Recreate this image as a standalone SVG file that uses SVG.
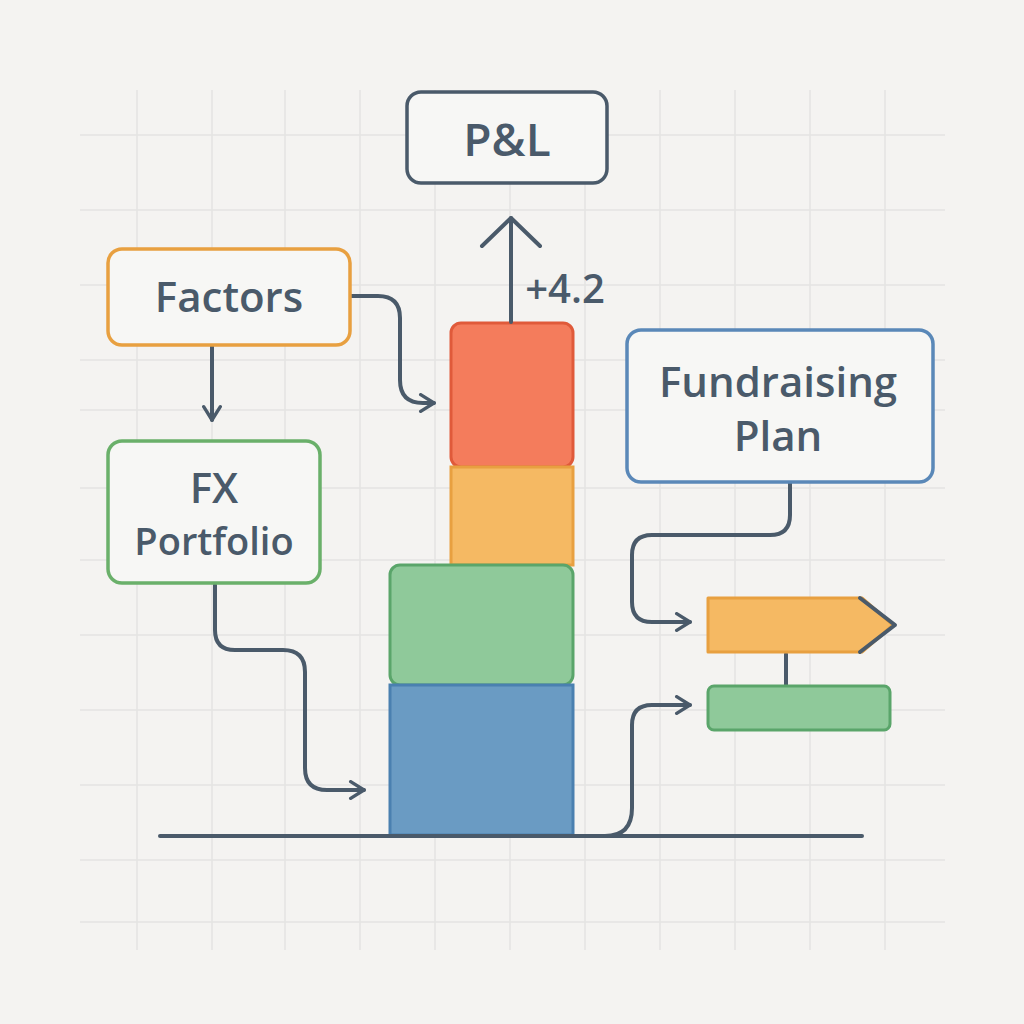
<svg xmlns="http://www.w3.org/2000/svg" width="1024" height="1024" viewBox="0 0 1024 1024">
<defs>
<style>
.grid{stroke:#e4e4e2;stroke-width:1.5}
.ln{fill:none;stroke:#4a5a6a;stroke-width:4;stroke-linecap:round;stroke-linejoin:round}
.t{font-family:"Open Sans","Liberation Sans",sans-serif;fill:#4a5a6a;text-anchor:middle;font-weight:600}
</style>
<marker id="ah" viewBox="0 0 12 12" refX="10" refY="6" markerWidth="5" markerHeight="5" orient="auto" markerUnits="strokeWidth">
<path d="M2 1 L10 6 L2 11" fill="none" stroke="#4a5a6a" stroke-width="2" stroke-linecap="round" stroke-linejoin="round"/>
</marker>
</defs>
<rect width="1024" height="1024" fill="#f4f3f1"/>
<g id="grid">
<path class="grid" d="M137 90V950M212 90V950M285 90V950M360 90V950M435 90V950M510 90V950M585 90V950M660 90V950M735 90V950M810 90V950M885 90V950M80 135H945M80 210H945M80 285H945M80 360H945M80 410H945M80 488H945M80 560H945M80 635H945M80 710H945M80 785H945M80 860H945M80 922H945"/>
</g>
<g id="bars">
<rect x="451" y="323" width="122" height="144" rx="10" fill="#f47c5c" stroke="#e05a3a" stroke-width="3"/>
<rect x="451" y="467" width="122" height="98" fill="#f5b963" stroke="#e8a040" stroke-width="3"/>
<rect x="390" y="565" width="183" height="120" rx="10" fill="#8fc99a" stroke="#5aa56a" stroke-width="3"/>
<rect x="390" y="685" width="183" height="150" fill="#6a9bc3" stroke="#4a80b0" stroke-width="3"/>
</g>
<g id="connectors">
<path class="ln" d="M160 836H862"/>
<path class="ln" d="M511 322V218"/>
<path class="ln" d="M482 246L511 218L540 246"/>
<path class="ln" d="M212 345V420" marker-end="url(#ah)"/>
<path class="ln" d="M350 296H378Q400 296 400 318V380Q400 403 423 403H434" marker-end="url(#ah)"/>
<path class="ln" d="M215 585V630Q215 650 235 650H283Q305 650 305 672V768Q305 790 327 790H364" marker-end="url(#ah)"/>
<path class="ln" d="M790 482V515Q790 535 770 535H652Q632 535 632 555V602Q632 622 652 622H690" marker-end="url(#ah)"/>
<path class="ln" d="M786 654V686"/>
<path class="ln" d="M605 836Q632 836 632 808V725Q632 705 652 705H690" marker-end="url(#ah)"/>
</g>
<g id="pl">
<rect x="407" y="92" width="200" height="91" rx="14" fill="#f7f7f5" stroke="#4a5a6a" stroke-width="3.5"/>
<text class="t" x="507" y="156" font-size="46" font-weight="bold">P&amp;L</text>
</g>
<text class="t" x="565" y="303" font-size="40">+4.2</text>
<g id="factors">
<rect x="108" y="249" width="242" height="96" rx="14" fill="#f7f7f5" stroke="#e8a040" stroke-width="3.5"/>
<text class="t" x="229" y="312" font-size="42">Factors</text>
</g>
<g id="fx">
<rect x="108" y="441" width="212" height="142" rx="14" fill="#f7f7f5" stroke="#6ab06a" stroke-width="3.5"/>
<text class="t" x="214" y="503" font-size="42">FX</text>
<text class="t" x="214" y="555" font-size="38">Portfolio</text>
</g>
<g id="fundraising">
<rect x="627" y="330" width="306" height="152" rx="14" fill="#f7f7f5" stroke="#5a88b8" stroke-width="3.5"/>
<text class="t" x="778" y="397" font-size="42">Fundraising</text>
<text class="t" x="778" y="451" font-size="42">Plan</text>
</g>
<g id="orangeArrow">
<path d="M708 598H862L893 625L862 652H708Z" fill="#f5b963" stroke="#e8a040" stroke-width="3" stroke-linejoin="round"/>
<path class="ln" d="M860 598L895 625L860 652"/>
</g>
<g id="greenBar">
<rect x="708" y="686" width="182" height="44" rx="6" fill="#8fc99a" stroke="#5aa56a" stroke-width="3"/>
</g>
</svg>
